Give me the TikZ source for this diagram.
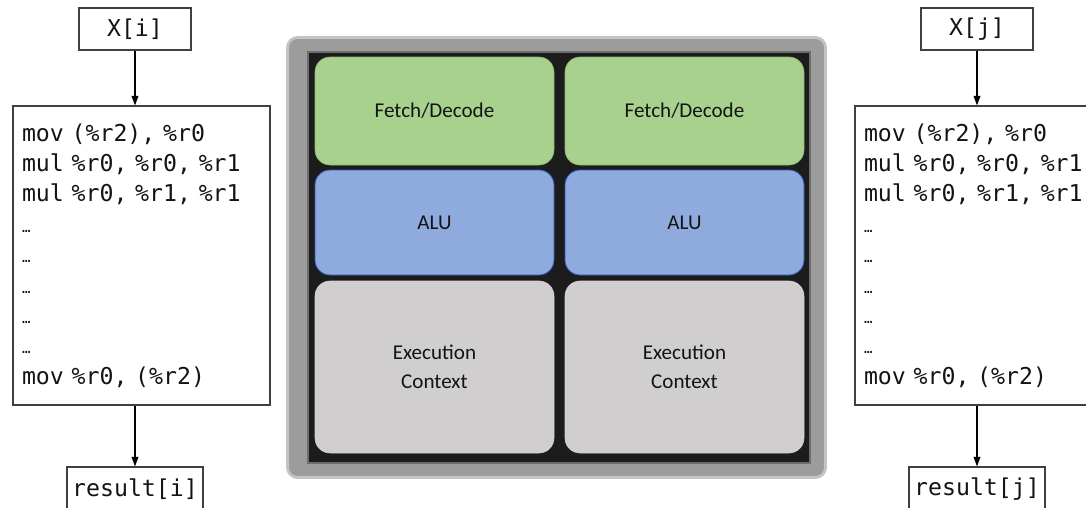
\documentclass[tikz,border=0pt]{standalone}
\usepackage{fontspec}
\setmainfont{Carlito}
\newfontfamily\codefont{DejaVu Sans Mono}
\usetikzlibrary{arrows.meta}
\definecolor{Edge}{HTML}{404040}
\definecolor{FrameOut}{HTML}{9C9C9C}
\definecolor{FrameIn}{HTML}{C4C4C4}
\definecolor{Core}{HTML}{1C1C1C}
\definecolor{Fetch}{HTML}{A9D18E}
\definecolor{FetchLine}{HTML}{8FB275}
\definecolor{Alu}{HTML}{8FAADC}
\definecolor{AluLine}{HTML}{2F5BB7}
\definecolor{Ctx}{HTML}{D0CECE}
\definecolor{Ink}{HTML}{141414}
\newcommand{\codedots}{{\fontsize{10}{10}\selectfont …}}

\begin{document}
\begin{tikzpicture}[font=\codefont\fontsize{16.5}{21.6}\selectfont,text=Ink,inbox/.style={draw=Edge,fill=white,line width=0.8pt,minimum width=2.8cm,minimum height=1.05cm,inner sep=0pt},codebox/.style={draw=Edge,fill=white,line width=0.8pt,minimum width=6.425cm,minimum height=7.475cm,text width=5.975cm,inner xsep=0.225cm,align=left},unit/.style={rounded corners=0.375cm,minimum width=5.975cm,inner sep=0pt,align=center,font=\fontsize{15}{21}\selectfont},fetchbox/.style={unit,fill=Fetch,draw=FetchLine,line width=0.4pt,minimum height=2.7cm},alubox/.style={unit,fill=Alu,draw=AluLine,line width=0.6pt,minimum height=2.625cm},ctxbox/.style={unit,fill=Ctx,draw=Ctx,minimum height=4.3cm},arrow/.style={-{Triangle[length=2.4mm,width=1.7mm]},line width=0.9pt,draw=black}]
\useasboundingbox (0,0) rectangle (27.15,-12.7);
\fill[white] (0,0) rectangle (27.15,-12.7);
\node[inbox] (xi) at (3.375,-0.725){X[i]};
\node[codebox] (codei) at (3.5375,-6.3875){mov (\%r2), \%r0\\mul \%r0, \%r0, \%r1\\mul \%r0, \%r1, \%r1\\\codedots\\\codedots\\\codedots\\\codedots\\\codedots\\mov \%r0, (\%r2)};
\node[inbox,minimum width=3.4cm,minimum height=1.1cm] (resi) at (3.375,-12.225){result[i]};
\node[inbox] (xj) at (24.425,-0.725){X[j]};
\node[codebox] (codej) at (24.5875,-6.3875){mov (\%r2), \%r0\\mul \%r0, \%r0, \%r1\\mul \%r0, \%r1, \%r1\\\codedots\\\codedots\\\codedots\\\codedots\\\codedots\\mov \%r0, (\%r2)};
\node[inbox,minimum width=3.4cm,minimum height=1.1cm] (resj) at (24.425,-12.225){result[j]};
\draw[arrow] (xi.south) -- (xi.south |- codei.north);\draw[arrow] (codei.south -| resi) -- (resi.north);
\draw[arrow] (xj.south) -- (xj.south |- codej.north);\draw[arrow] (codej.south -| resj) -- (resj.north);
\node[fill=FrameOut,draw=FrameIn,line width=2pt,rounded corners=0.25cm,minimum width=13.45cm,minimum height=11.0cm,inner sep=0pt] (chip) at (13.9125,-6.4375) {};
\node[fill=Core,draw=FrameOut!70!black,line width=1pt,minimum width=12.55cm,minimum height=10.275cm,inner sep=0pt] (core) at (13.975,-6.4375) {};
\node[fetchbox] (fd1) at (10.8625,-2.775){Fetch/Decode};
\node[fetchbox] (fd2) at (17.1125,-2.775){Fetch/Decode};
\node[alubox] (alu1) at (10.8625,-5.5625){ALU};
\node[alubox] (alu2) at (17.1125,-5.5625){ALU};
\node[ctxbox] (ctx1) at (10.8625,-9.175){Execution\\Context};
\node[ctxbox] (ctx2) at (17.1125,-9.175){Execution\\Context};
\end{tikzpicture}
\end{document}
